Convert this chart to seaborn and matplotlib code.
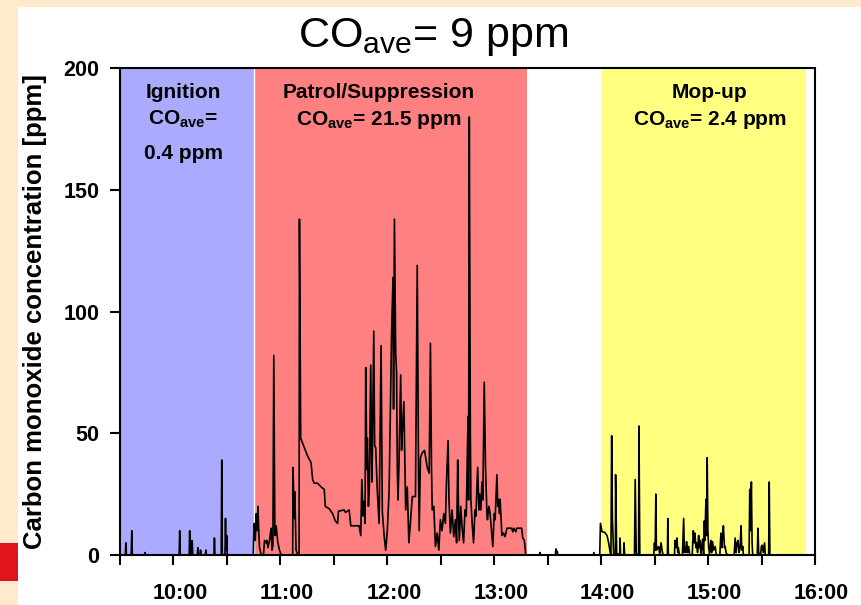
import matplotlib
matplotlib.use("Agg")
import matplotlib.pyplot as plt
from matplotlib.patches import Rectangle
from matplotlib.transforms import ScaledTranslation
import pandas as pd
import seaborn as sns

# ---------------- data (time in clock minutes, CO in ppm) ----------------
ignition = [(570, 0), (573.0, 0), (573.3, 5), (573.6, 0), (576.3, 0), (576.6, 10), (576.9, 0),
            (583.8, 0), (584.1, 1), (584.4, 0), (603.2, 0), (603.5, 10), (603.8, 0),
            (608.8, 0), (609.1, 10), (609.4, 0), (610.2, 0), (610.5, 6), (610.8, 0),
            (613.4, 0), (613.7, 3), (614.0, 0), (614.9, 0), (615.2, 2), (615.5, 0),
            (617.9, 0), (618.2, 2), (618.5, 0), (622.7, 0), (623.0, 7), (623.3, 0),
            (626.8, 0), (627.1, 39), (627.4, 0), (628.9, 0), (629.2, 15), (629.5, 2),
            (629.9, 8), (630.2, 0), (644.8, 0)]

patrol = [(645.0, 7), (645.4, 13), (645.9, 6), (646.5, 17), (647.0, 10), (647.4, 20), (647.9, 9),
          (648.3, 3), (649.3, 0), (650.5, 0), (651.1, 6), (652.0, 5), (652.5, 6), (653.0, 3),
          (653.9, 6), (654.8, 11), (655.3, 2), (655.8, 4), (656.3, 82), (656.9, 8), (657.6, 12),
          (658.6, 5), (659.5, 2), (660.4, 0), (666.9, 0), (667.1, 36), (667.7, 15), (668.1, 26),
          (668.8, 2), (669.9, 0), (670.5, 0), (670.7, 138), (671.4, 48), (673.5, 44), (675.3, 40.6),
          (677.2, 38), (678.1, 31), (679.0, 29.5), (680.9, 29.5), (682.8, 28), (684.6, 27),
          (685.2, 20), (687.4, 19), (689.3, 17), (690.8, 14), (692.1, 13), (692.6, 18),
          (695.8, 18.5), (696.5, 17.5), (698.6, 18.5), (699.5, 12), (704.2, 12), (705.1, 8),
          (705.7, 31), (706.4, 16), (707.0, 22), (707.5, 13), (707.9, 77), (708.5, 35), (708.8, 48),
          (709.4, 20), (709.9, 28), (710.7, 78), (711.3, 30), (711.6, 41), (712.4, 92), (712.9, 45),
          (713.5, 44), (714.4, 26), (715.4, 13), (716.5, 86), (717.2, 18), (718.2, 8), (719.1, 2),
          (720.0, 10), (721.0, 26), (722.4, 91), (723.2, 114), (723.5, 60), (724.0, 138),
          (724.7, 83), (725.2, 75), (725.6, 36), (726.0, 22.6), (726.5, 36), (727.5, 74), (728.0, 43),
          (728.4, 50), (729.3, 63), (729.9, 36), (730.3, 18.5), (731.2, 28), (732.1, 5), (733.1, 14.5),
          (734.0, 24), (735.8, 24), (736.8, 119), (737.5, 36), (737.9, 10), (738.6, 40), (739.6, 42),
          (740.9, 43), (742.4, 36), (743.5, 33.6), (744.2, 87), (744.8, 36), (745.2, 18.5),
          (746.1, 20), (747.0, 3.5), (748.0, 9), (748.9, 2), (749.8, 14.5), (750.7, 10), (751.7, 17),
          (752.6, 13), (753.2, 30), (754.1, 47), (754.6, 22.6), (755.4, 9), (756.3, 18.5),
          (757.3, 7.5), (758.2, 14.5), (758.9, 5), (759.5, 39), (760.0, 16), (760.4, 6), (761.2, 20),
          (761.9, 12), (762.8, 5), (763.6, 18.5), (764.3, 16), (765.3, 57), (765.6, 22.6),
          (766.0, 180), (766.6, 50), (766.9, 22.6), (767.7, 12), (768.4, 5), (769.2, 18.5),
          (769.7, 16), (770.7, 36), (771.4, 18.5), (771.8, 25), (772.5, 18.5), (773.1, 30),
          (773.6, 22.6), (774.4, 71), (774.8, 50), (775.1, 36), (775.9, 17), (776.2, 14.5),
          (777.0, 20), (777.7, 17), (778.5, 10), (779.2, 3.5), (780.0, 17), (780.5, 14.5),
          (781.5, 33), (782.0, 20), (782.4, 22.6), (783.0, 17), (783.3, 23), (784.3, 8), (785.2, 9),
          (786.1, 7.5), (787.1, 11), (789.8, 11), (790.4, 9.5), (791.0, 11), (792.1, 9.5),
          (792.6, 11), (795.4, 11), (796.0, 7), (796.9, 6), (797.7, 0)]

transit = [(798.5, 0), (805.4, 0), (805.7, 1), (806.0, 0), (814.3, 0), (814.6, 2.5), (815.0, 1),
           (815.4, 1.5), (815.7, 0), (835.6, 0), (835.9, 1), (836.2, 0), (839.2, 0)]

mopup = [(839.6, 13), (840.5, 9.6), (842.0, 9.3), (843.3, 8), (844.2, 5), (845.2, 0.5), (845.5, 0),
         (845.9, 49), (846.3, 15), (847.0, 0.7), (848.0, 0), (848.1, 33), (848.7, 0.7), (850.4, 0),
         (850.6, 7), (850.9, 0), (852.6, 0), (852.8, 5), (853.2, 0), (858.7, 0), (859.1, 31),
         (859.7, 0.5), (861.0, 0), (861.2, 53), (861.7, 0), (869.5, 0), (869.9, 5), (870.3, 2),
         (870.7, 25), (871.0, 2), (871.8, 3), (872.3, 3.5), (872.9, 0), (873.6, 5), (874.4, 1),
         (874.9, 0), (877.2, 0), (877.4, 15), (877.7, 0), (881.1, 0), (881.5, 6), (882.0, 3),
         (882.6, 7), (883.0, 1), (883.3, 3), (883.9, 0), (885.6, 0), (886.3, 15), (886.7, 1),
         (887.0, 3.5), (887.6, 1), (887.9, 5.5), (888.5, 1), (889.1, 3.5), (889.7, 0), (891.1, 0),
         (891.7, 10), (892.3, 5), (892.6, 9), (893.2, 3), (893.6, 5), (894.1, 1), (894.7, 8),
         (895.1, 3), (895.4, 6), (896.0, 0.5), (896.9, 6.5), (897.5, 0), (897.9, 14), (898.2, 6),
         (898.8, 23), (899.2, 8), (899.5, 40), (899.9, 10), (900.3, 3.5), (900.8, 0.5), (901.6, 6),
         (902.0, 1), (902.5, 5.5), (903.1, 2), (904.0, 3.5), (904.6, 0), (906.6, 0), (907.2, 9),
         (907.7, 3), (908.1, 7.5), (908.6, 12), (909.2, 3), (909.6, 3.5), (910.1, 1), (910.5, 0.5),
         (910.9, 0), (914.6, 0), (915.2, 7), (915.7, 1), (916.3, 5), (916.8, 6), (917.4, 1),
         (918.0, 3.5), (918.5, 12), (918.9, 2), (919.5, 3.5), (919.8, 0), (923.0, 0), (923.4, 27),
         (923.7, 10), (924.3, 30), (924.7, 5), (925.0, 0.5), (925.4, 0), (927.6, 0), (928.0, 11),
         (928.4, 1), (928.9, 0.5), (929.5, 0), (929.9, 3.5), (930.4, 4), (931.0, 1), (931.7, 5),
         (932.1, 0), (934.0, 0), (934.3, 30), (934.7, 0), (953.0, 0)]

# phases
phase_names = ["Ignition", "Patrol/Suppression", "Mop-up"]
phase_start = [570, 645, 840]
phase_end = [645, 798.5, 955]
phase_avg = ["0.4 ppm", "21.5 ppm", "2.4 ppm"]
overall_avg = "9 ppm"

x_ticks = [570, 600, 630, 660, 690, 720, 750, 780, 810, 840, 870, 900, 930, 960]
x_tick_labels = ["", "10:00", "", "11:00", "", "12:00", "", "13:00", "", "14:00", "", "15:00", "", "16:00"]
y_ticks = [0, 50, 100, 150, 200]

# ---------------- styling ----------------
sns.set_style("ticks")
plt.rcParams["font.family"] = ["Liberation Sans", "DejaVu Sans"]
plt.rcParams["text.color"] = "black"
plt.rcParams["axes.labelcolor"] = "black"
plt.rcParams["xtick.color"] = "black"
plt.rcParams["ytick.color"] = "black"
plt.rcParams["mathtext.fontset"] = "custom"
plt.rcParams["mathtext.rm"] = "Liberation Sans"
plt.rcParams["mathtext.bf"] = "Liberation Sans:bold"
plt.rcParams["mathtext.it"] = "Liberation Sans:italic"
plt.rcParams["mathtext.sf"] = "Liberation Sans"

W, H = 861, 605
fig = plt.figure(figsize=(W / 100, H / 100), dpi=100)
fig.patch.set_facecolor("white")

cream = "#FFEACC"
fig.patches.append(Rectangle((0, 1 - 7 / H), 1, 7 / H, transform=fig.transFigure,
                             facecolor=cream, edgecolor="none", zorder=0))
fig.patches.append(Rectangle((0, 0), 18 / W, 1, transform=fig.transFigure,
                             facecolor=cream, edgecolor="none", zorder=0))
fig.patches.append(Rectangle((0, 1 - 581 / H), 18 / W, 38 / H, transform=fig.transFigure,
                             facecolor="#E0151B", edgecolor="none", zorder=1))

ax = fig.add_axes([120 / W, 1 - 555 / H, 695 / W, (555 - 68.3) / H])
ax.set_facecolor("white")

colors = ["#AAAAFF", "#FF8080", "#FFFF80"]
for s, e, c in zip(phase_start, phase_end, colors):
    ax.axvspan(s, e, color=c, lw=0, zorder=0)
ax.axvline(phase_start[1], color="white", lw=1.0, zorder=0.5)

pts = ignition + patrol + transit + mopup
df = pd.DataFrame(pts, columns=["t", "co"])
sns.lineplot(data=df, x="t", y="co", color="black", lw=1.2, estimator=None,
             sort=False, ax=ax, zorder=2)

ax.set_xlim(570, 960)
ax.set_ylim(0, 200)
ax.set_xlabel("")
ax.set_ylabel("")
ax.set_xticks(x_ticks)
ax.set_xticklabels(x_tick_labels)
ax.set_yticks(y_ticks)
ax.tick_params(axis="both", direction="out", length=7, width=1.5, color="black",
               labelsize=15.5, labelcolor="black")
ax.tick_params(axis="y", pad=8)
ax.tick_params(axis="x", pad=13)
for lab in ax.get_xticklabels() + ax.get_yticklabels():
    lab.set_fontweight("bold")
for lab in ax.get_xticklabels():
    lab.set_transform(lab.get_transform() + ScaledTranslation(6.5 / 100, 0, fig.dpi_scale_trans))
for sp in ax.spines.values():
    sp.set_visible(True)
    sp.set_color("black")
    sp.set_linewidth(1.5)
    sp.set_zorder(3)

# phase annotations
x_centers = [605.5, 715, 901]
for i, (name, avg, xc) in enumerate(zip(phase_names, phase_avg, x_centers)):
    ax.text(xc, 187.7, name, ha="center", va="baseline", fontsize=15, fontweight="bold",
            color="black", zorder=4)
    if i == 0:
        ax.text(xc, 176.7, r"$\mathbf{CO}_{\mathbf{ave}}$=", ha="center", va="baseline",
                fontsize=15, fontweight="bold", color="black", zorder=4)
        ax.text(xc, 162.8, avg, ha="center", va="baseline", fontsize=15, fontweight="bold",
                color="black", zorder=4)
    else:
        ax.text(xc, 176.7, r"$\mathbf{CO}_{\mathbf{ave}}$= " + avg, ha="center", va="baseline",
                fontsize=15, fontweight="bold", color="black", zorder=4)

fig.text(0.503, 1 - 47 / H, r"CO$_{\mathrm{ave}}$= " + overall_avg, ha="center", va="baseline",
         fontsize=31, color="black")
fig.text(35 / W, 1 - 311.5 / H, "Carbon monoxide concentration [ppm]", rotation=90,
         ha="center", va="center", fontsize=18.5, fontweight="bold", color="black")

fig.savefig("out.png", dpi=100, facecolor=fig.get_facecolor())
